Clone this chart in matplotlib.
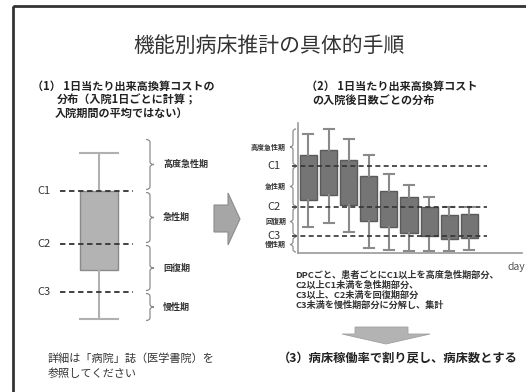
import matplotlib
matplotlib.use("Agg")
import matplotlib.pyplot as plt
from matplotlib.patches import Polygon, PathPatch, Rectangle
from matplotlib.path import Path
from matplotlib.transforms import blended_transform_factory

plt.rcParams["font.family"] = ["Noto Sans CJK JP", "DejaVu Sans"]

W, H = 526, 392

# phases and cut-off values
cut_names = ["C1", "C2", "C3"]
phase_names = ["高度急性期", "急性期", "回復期", "慢性期"]

# (1) one distribution of daily cost
left_stats = {"whislo": 11, "q1": 60, "med": 60, "q3": 139, "whishi": 177}
left_cuts = [139, 86, 38]
left_brace_ends = [192, 8]

# (2) distribution of daily cost per day after admission
days = [1, 2, 3, 4, 5, 6, 7, 8, 9]
whis_lo = [26, 30, 21, 5, 3, 2, 2, 2, 3]
q1 = [53, 58, 48, 32, 26, 20, 17, 14, 15]
q3 = [98, 103, 93, 77, 62, 56, 46, 38, 39]
whis_hi = [119, 124, 114, 98, 79, 68, 56, 46, 46]
right_cuts = [87, 46, 17]
right_brace_ends = [125, 0]

notes = ["DPCごと、患者ごとにC1以上を高度急性期部分、",
         "C2以上C1未満を急性期部分、",
         "C3以上、C2未満を回復期部分",
         "C3未満を慢性期部分に分解し、集計"]


def px_axes(fig, x0, y0, x1, y1):
    return fig.add_axes([x0 / W, 1 - y1 / H, (x1 - x0) / W, (y1 - y0) / H])


def brace(ax, trans, x, y_top, y_bot, w, side):
    # curly brace; side=+1 tip to the right, -1 tip to the left
    m = (y_top + y_bot) / 2
    h = 3
    xm = x + side * w / 2
    xt = x + side * w
    verts = [(x, y_top), (xm, y_top), (xm, y_top - h),
             (xm, m + h), (xm, m), (xt, m),
             (xm, m), (xm, m - h),
             (xm, y_bot + h), (xm, y_bot), (x, y_bot)]
    codes = [Path.MOVETO, Path.CURVE3, Path.CURVE3,
             Path.LINETO, Path.CURVE3, Path.CURVE3,
             Path.CURVE3, Path.CURVE3,
             Path.LINETO, Path.CURVE3, Path.CURVE3]
    ax.add_patch(PathPatch(Path(verts, codes), transform=trans, fill=False,
                           edgecolor="#8c8c8c", lw=0.9, clip_on=False))


fig = plt.figure(figsize=(W / 100, H / 100), dpi=100)
base = fig.add_axes([0, 0, 1, 1])
base.set_xlim(0, W)
base.set_ylim(H, 0)
base.axis("off")

# frame
base.add_patch(Rectangle((13, 6), 540, 420, fill=False, edgecolor="#333333", lw=2))

base.text(269, 46, "機能別病床推計の具体的手順", fontsize=15, ha="center", va="center",
          color="#333333")

hd = dict(fontsize=8, fontweight="bold", va="center", color="#222222")
base.text(32, 86, "（1） 1日当たり出来高換算コストの", **hd)
base.text(57, 100, "分布（入院1日ごとに計算；", **hd)
base.text(55, 113, "入院期間の平均ではない）", **hd)
base.text(306, 86, "（2） 1日当たり出来高換算コスト", **hd)
base.text(312, 100, "の入院後日数ごとの分布", **hd)

base.text(48, 358, "詳細は「病院」誌（医学書院）を", fontsize=8, va="center", color="#333333")
base.text(48, 374, "参照してください", fontsize=8, va="center", color="#333333")
base.text(278, 358, "（3）病床稼働率で割り戻し、病床数とする", fontsize=8.8,
          fontweight="bold", va="center", color="#222222")

for i, line in enumerate(notes):
    base.text(295, 275 + i * 10, line, fontsize=6.6, fontweight="bold", va="center",
              color="#333333")

base.text(378, 131, "DPCごとに集計", fontsize=5, va="center", color="#333333")
base.text(508, 267, "day", fontsize=7.5, va="center", color="#555555")

# arrows
base.add_patch(Polygon([(214, 205), (228, 205), (228, 193), (240, 219), (228, 245),
                        (228, 232), (214, 232)], closed=True,
                       facecolor="#a6a6a6", edgecolor="#8c8c8c", lw=0.8))
base.add_patch(Polygon([(355, 327), (408, 327), (408, 334), (430, 334), (386, 344),
                        (342, 334), (355, 334)], closed=True,
                       facecolor="#b3b3b3", edgecolor="#a0a0a0", lw=0.6))

# ---- (1) left box plot ----
axl = px_axes(fig, 55, 130, 140, 330)
axl.set_xlim(0, 85)
axl.set_ylim(0, 200)
axl.axis("off")
axl.bxp([left_stats], positions=[44], widths=38, capwidths=38, showfliers=False,
        patch_artist=True,
        boxprops=dict(facecolor="#b3b3b3", edgecolor="#8a8a8a", lw=1),
        whiskerprops=dict(color="#b0b0b0", lw=1.5),
        capprops=dict(color="#b0b0b0", lw=1.5),
        medianprops=dict(visible=False))
axl.hlines(left_cuts, 5, 78, colors="#333333", linestyles=(0, (3, 2)), lw=1.3,
           clip_on=False)
for name, c in zip(cut_names, left_cuts):
    axl.text(-18, c, name, fontsize=8, va="center", color="#333333")

tl = blended_transform_factory(base.transData, axl.transData)
ends = [left_brace_ends[0]] + left_cuts + [left_brace_ends[1]]
for i, name in enumerate(phase_names):
    top, bot = ends[i] - 1.5, ends[i + 1] + 1.5
    brace(axl, tl, 146, top, bot, 8, 1)
    axl.text(163, (top + bot) / 2, name, fontsize=6.5, fontweight="bold",
             va="center", color="#333333", transform=tl)

# ---- (2) right box plots ----
axr = px_axes(fig, 298, 123, 522, 253)
axr.set_xlim(0.48, 11.62)
axr.set_ylim(0, 130)
stats = [{"whislo": a, "q1": b, "med": b, "q3": c, "whishi": d}
         for a, b, c, d in zip(whis_lo, q1, q3, whis_hi)]
axr.bxp(stats, positions=days, widths=0.85, capwidths=0.5, showfliers=False,
        patch_artist=True,
        boxprops=dict(facecolor="#757575", edgecolor="#5a5a5a", lw=1),
        whiskerprops=dict(color="#8a8a8a", lw=1.5),
        capprops=dict(color="#8a8a8a", lw=1.5),
        medianprops=dict(visible=False))
for s in ["top", "right"]:
    axr.spines[s].set_visible(False)
for s in ["left", "bottom"]:
    axr.spines[s].set_color("#9a9a9a")
    axr.spines[s].set_linewidth(1.2)
axr.set_xticks([])
axr.set_yticks([])
axr.hlines(right_cuts, 0.18, 9.88, colors="#333333", linestyles=(0, (3, 2)), lw=1.2,
           clip_on=False, zorder=3)

tr = blended_transform_factory(base.transData, axr.transData)
ends = [right_brace_ends[0]] + right_cuts + [right_brace_ends[1]]
for i, name in enumerate(phase_names):
    top, bot = ends[i] - 1, ends[i + 1] + 1
    brace(axr, tr, 296, top, bot, 6, -1)
    axr.text(286, (top + bot) / 2, name, fontsize=5, fontweight="bold", ha="right",
             va="center", color="#333333", transform=tr)
for name, c in zip(cut_names, right_cuts):
    axr.text(281, c, name, fontsize=8, ha="right", va="center", color="#333333",
             transform=tr)

fig.savefig("out.png", dpi=100)
